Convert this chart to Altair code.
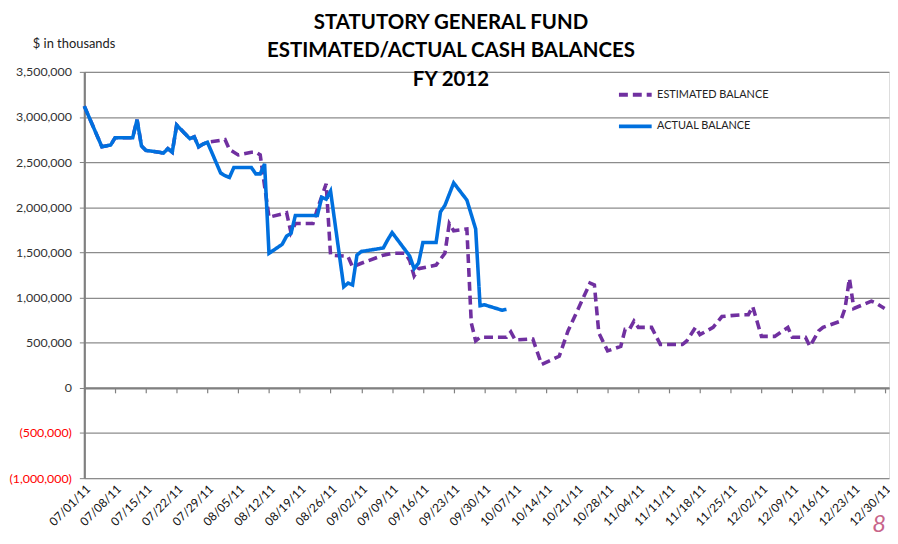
import altair as alt
import pandas as pd

# ---------------- data (values in $ thousands) ----------------
actual_dates = [
    "2011-07-01", "2011-07-05", "2011-07-07", "2011-07-08", "2011-07-11", "2011-07-12",
    "2011-07-13", "2011-07-14", "2011-07-15", "2011-07-18", "2011-07-19", "2011-07-20",
    "2011-07-21", "2011-07-22", "2011-07-25", "2011-07-26", "2011-07-27", "2011-07-28",
    "2011-07-29", "2011-08-01", "2011-08-02", "2011-08-03", "2011-08-04", "2011-08-05",
    "2011-08-08", "2011-08-09", "2011-08-10", "2011-08-11", "2011-08-12", "2011-08-15",
    "2011-08-16", "2011-08-17", "2011-08-18", "2011-08-19", "2011-08-22", "2011-08-23",
    "2011-08-24", "2011-08-25", "2011-08-26", "2011-08-29", "2011-08-30", "2011-08-31",
    "2011-09-01", "2011-09-02", "2011-09-07", "2011-09-08", "2011-09-09", "2011-09-13",
    "2011-09-14", "2011-09-15", "2011-09-16", "2011-09-19", "2011-09-20", "2011-09-21",
    "2011-09-23", "2011-09-26", "2011-09-28", "2011-09-29", "2011-09-30", "2011-10-04",
    "2011-10-05",
]
actual_values = [
    3120000, 2670000, 2690000, 2770000, 2770000, 2770000,
    2970000, 2680000, 2630000, 2610000, 2600000, 2650000,
    2610000, 2910000, 2760000, 2780000, 2670000, 2700000,
    2720000, 2380000, 2350000, 2330000, 2440000, 2440000,
    2440000, 2370000, 2370000, 2480000, 1490000, 1590000,
    1680000, 1710000, 1910000, 1910000, 1910000, 1910000,
    2110000, 2090000, 2180000, 1120000, 1160000, 1140000,
    1470000, 1510000, 1550000, 1640000, 1720000, 1460000,
    1320000, 1380000, 1610000, 1610000, 1950000, 2020000,
    2270000, 2080000, 1760000, 910000, 920000, 860000,
    870000,
]

estimated_dates = [
    "2011-07-01", "2011-07-05", "2011-07-07", "2011-07-08", "2011-07-11", "2011-07-12",
    "2011-07-13", "2011-07-14", "2011-07-15", "2011-07-18", "2011-07-19", "2011-07-20",
    "2011-07-21", "2011-07-22", "2011-07-25", "2011-07-26", "2011-07-27", "2011-07-28",
    "2011-07-29", "2011-08-02", "2011-08-03", "2011-08-05", "2011-08-08", "2011-08-09",
    "2011-08-10", "2011-08-12", "2011-08-16", "2011-08-17", "2011-08-18", "2011-08-22",
    "2011-08-23", "2011-08-25", "2011-08-26", "2011-08-29", "2011-08-30", "2011-08-31",
    "2011-09-02", "2011-09-07", "2011-09-09", "2011-09-12", "2011-09-13", "2011-09-14",
    "2011-09-15", "2011-09-19", "2011-09-21", "2011-09-22", "2011-09-23", "2011-09-26",
    "2011-09-27", "2011-09-28", "2011-09-29", "2011-09-30", "2011-10-03", "2011-10-05",
    "2011-10-06", "2011-10-07", "2011-10-10", "2011-10-11", "2011-10-13", "2011-10-17",
    "2011-10-19", "2011-10-24", "2011-10-25", "2011-10-26", "2011-10-28", "2011-10-31",
    "2011-11-01", "2011-11-02", "2011-11-03", "2011-11-04", "2011-11-07", "2011-11-09",
    "2011-11-14", "2011-11-15", "2011-11-17", "2011-11-18", "2011-11-21", "2011-11-23",
    "2011-11-25", "2011-11-28", "2011-11-29", "2011-11-30", "2011-12-02", "2011-12-05",
    "2011-12-08", "2011-12-09", "2011-12-12", "2011-12-13", "2011-12-15", "2011-12-16",
    "2011-12-20", "2011-12-21", "2011-12-22", "2011-12-23", "2011-12-27", "2011-12-28",
    "2011-12-30",
]
estimated_values = [
    3120000, 2670000, 2690000, 2770000, 2770000, 2770000,
    2970000, 2680000, 2630000, 2610000, 2600000, 2650000,
    2610000, 2910000, 2760000, 2780000, 2670000, 2700000,
    2720000, 2750000, 2640000, 2580000, 2610000, 2610000,
    2580000, 1890000, 1940000, 1720000, 1820000, 1820000,
    1980000, 2260000, 1470000, 1460000, 1450000, 1340000,
    1380000, 1470000, 1490000, 1490000, 1410000, 1240000,
    1320000, 1360000, 1490000, 1820000, 1740000, 1760000,
    720000, 520000, 560000, 560000, 560000, 560000,
    620000, 530000, 540000, 540000, 260000, 350000,
    630000, 1160000, 1140000, 610000, 410000, 460000,
    650000, 650000, 740000, 670000, 670000, 480000,
    480000, 520000, 670000, 590000, 670000, 790000,
    800000, 810000, 810000, 900000, 570000, 570000,
    670000, 560000, 560000, 460000, 630000, 670000,
    740000, 880000, 1210000, 880000, 960000, 940000,
    880000,
]

series_names = ["ESTIMATED BALANCE", "ACTUAL BALANCE"]
series_colors = ["#7030A0", "#0070DE"]
week_ticks = pd.date_range("2011-07-01", "2011-12-30", freq="7D").strftime("%Y-%m-%d").tolist()
x_domain = ["2011-07-01", "2011-12-31"]
y_ticks = [-1000000, -500000, 0, 500000, 1000000, 1500000, 2000000, 2500000, 3000000, 3500000]
title_lines = ["STATUTORY GENERAL FUND", "ESTIMATED/ACTUAL CASH BALANCES", "FY 2012"]


def to_ms(dates):
    return [int(v) for v in (pd.to_datetime(dates).astype("int64") // 10**6)]


df = pd.concat([
    pd.DataFrame({"date": estimated_dates, "value": estimated_values, "series": series_names[0]}),
    pd.DataFrame({"date": actual_dates, "value": actual_values, "series": series_names[1]}),
])

FONT = "Lato"
xscale = alt.Scale(type="utc", domain=to_ms(x_domain))
yscale = alt.Scale(domain=[y_ticks[0], y_ticks[-1]], nice=False, zero=False)
color_scale = alt.Scale(domain=series_names, range=series_colors)
dash_scale = alt.Scale(domain=series_names, range=[[9, 5], [1, 0]])

legend = alt.Legend(
    title=None, orient="none", legendX=537, legendY=4,
    symbolType="stroke", symbolSize=1090, symbolStrokeWidth=4,
    labelFont=FONT, labelFontSize=11, labelColor="#222222",
    labelOffset=3, rowPadding=5,
)

yaxis = alt.Axis(
    values=y_ticks, title=None, grid=True, gridColor="#8c8c8c", gridWidth=1.3,
    domainColor="#808080", domainWidth=2.2, tickColor="#808080", tickSize=5,
    labelFont=FONT, labelFontSize=12.5, labelPadding=8,
    labelExpr="datum.value < 0 ? '(' + format(-datum.value, ',') + ')' : format(datum.value, ',')",
    labelColor={"expr": "datum.value < 0 ? '#ff0000' : '#333333'"},
)

label_axis = alt.Axis(
    orient="bottom", values=to_ms(week_ticks),
    labelExpr="utcFormat(datum.value, '%m/%d/%y')",
    labelAngle=-45, ticks=False, domain=False, grid=False, title=None,
    labelFont=FONT, labelFontSize=12, labelColor="#111111", labelPadding=5,
    labelOverlap=False, labelBound=False, labelFlush=False,
)
zero_axis = alt.Axis(
    orient="bottom", values=to_ms(week_ticks), labels=False, ticks=True, tickSize=5,
    tickColor="#808080", tickWidth=1.2, domain=True, domainColor="#808080", domainWidth=2.2,
    grid=False, title=None, offset=-91.1,
)

est = alt.Chart(df).transform_filter(alt.datum.series == series_names[0]).mark_line(
    strokeWidth=3.6, strokeCap="butt"
).encode(
    x=alt.X("date:T", scale=xscale, axis=label_axis),
    y=alt.Y("value:Q", scale=yscale, axis=yaxis),
    color=alt.Color("series:N", scale=color_scale, legend=legend),
    strokeDash=alt.StrokeDash("series:N", scale=dash_scale, legend=legend),
)

act = alt.Chart(df).transform_filter(alt.datum.series == series_names[1]).mark_line(
    strokeWidth=3.6
).encode(
    x=alt.X("date:T", scale=xscale, axis=zero_axis),
    y=alt.Y("value:Q", scale=yscale, axis=yaxis),
    color=alt.Color("series:N", scale=color_scale, legend=legend),
    strokeDash=alt.StrokeDash("series:N", scale=dash_scale, legend=legend),
)

units = alt.Chart(pd.DataFrame({"t": ["$ in thousands"]})).mark_text(
    align="left", baseline="alphabetic", font=FONT, fontSize=13, color="#222222"
).encode(x=alt.value(-52), y=alt.value(-24), text="t:N")

page = alt.Chart(pd.DataFrame({"t": ["8"]})).mark_text(
    align="left", baseline="alphabetic", font=FONT, fontSize=24, fontStyle="italic",
    color="#c8648a"
).encode(x=alt.value(795), y=alt.value(464), text="t:N")

chart = alt.layer(est, act, units, page).resolve_axis(x="independent").properties(
    width=812, height=410,
    autosize=alt.AutoSizeParams(type="none"),
    padding={"left": 77, "top": 62, "right": 1, "bottom": 64},
    title=alt.Title(
        title_lines, font=FONT, fontSize=20.6, fontWeight="bold", color="#000000",
        lineHeight=29, anchor="middle", frame="group", baseline="bottom",
        dx=-36, offset=-73,
    ),
).configure_view(stroke=None).configure(background="white")

chart.save("out.html", embed_options={"renderer": "svg", "actions": False})
